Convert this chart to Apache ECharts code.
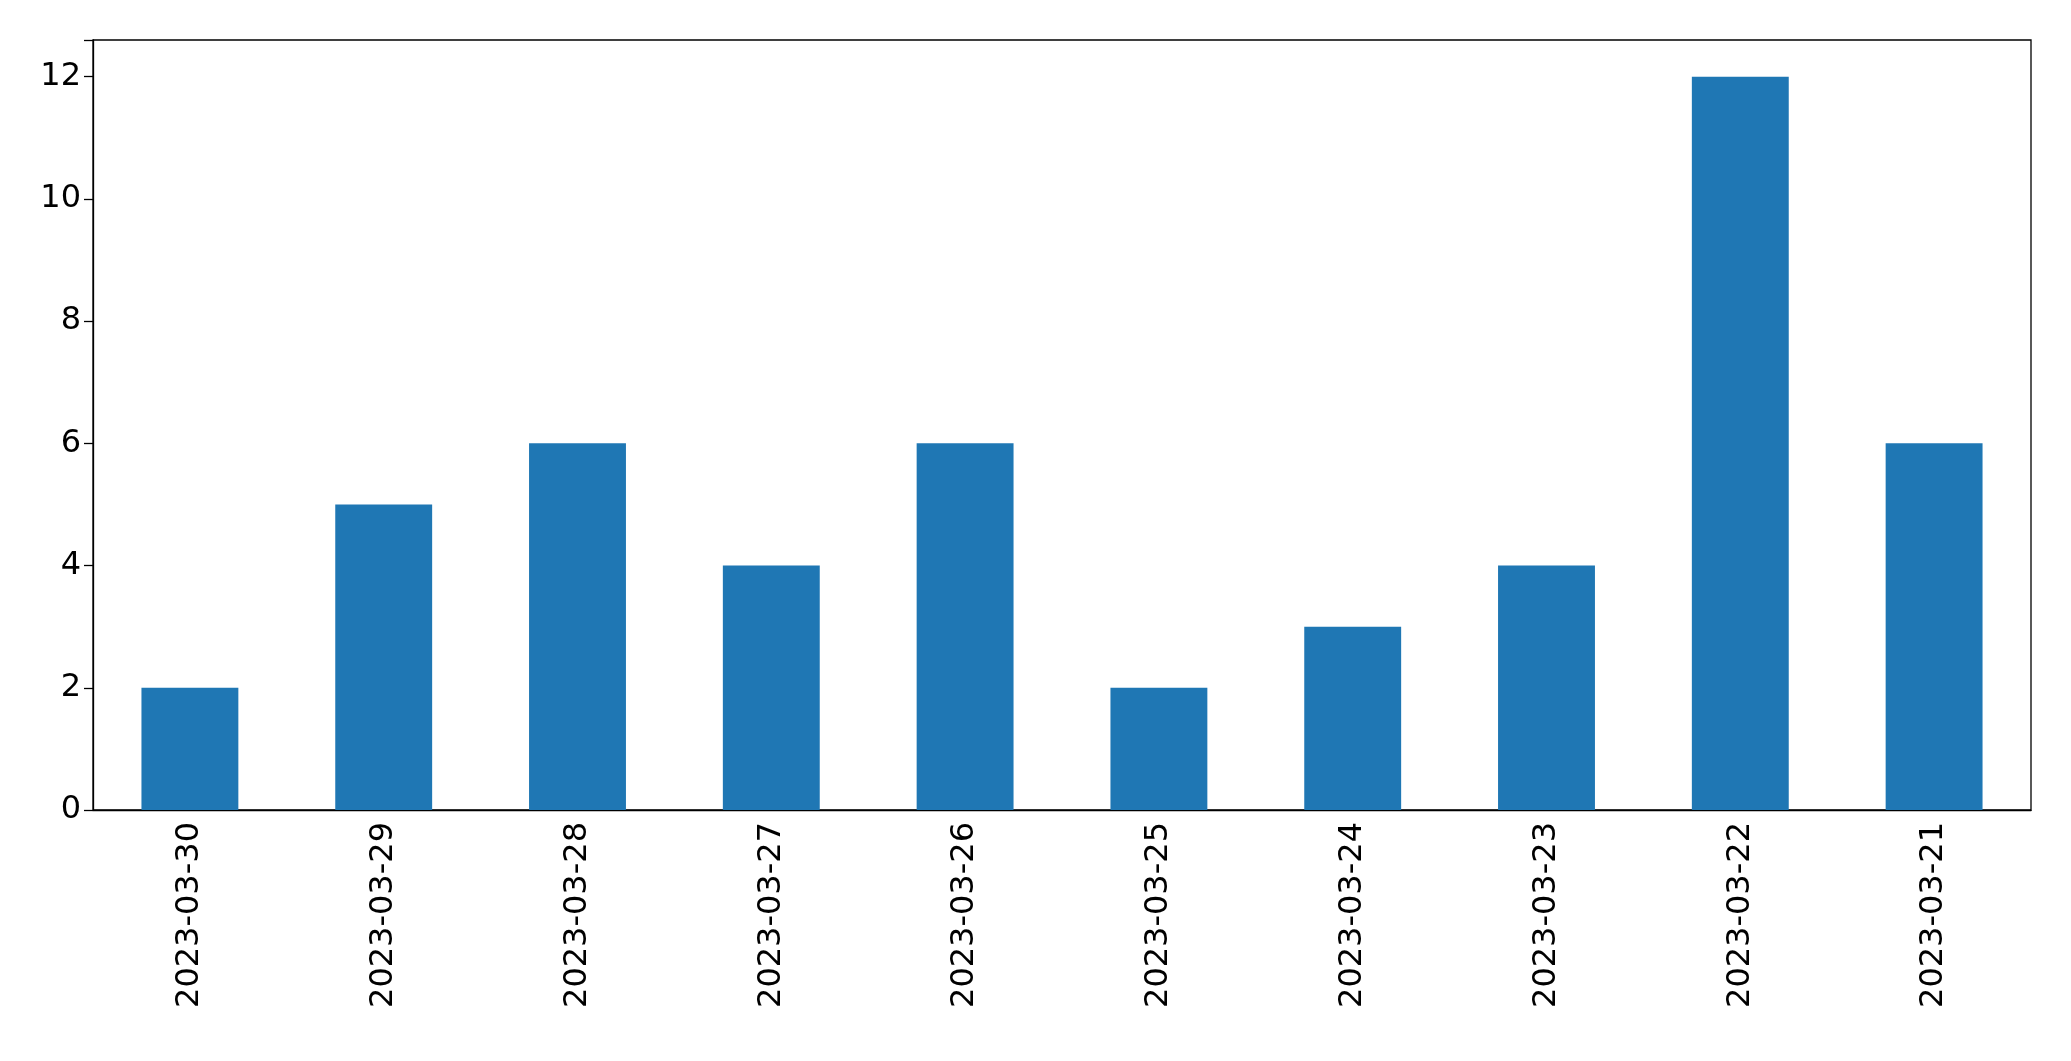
<!DOCTYPE html><html><head><meta charset="utf-8"><script src="https://cdn.jsdelivr.net/npm/echarts@6/dist/echarts.min.js"></script>
<style>html,body{margin:0;background:#fff}#c{width:2071px;height:1061px}</style></head><body><div id="c"></div><script>
const categories=['2023-03-30','2023-03-29','2023-03-28','2023-03-27','2023-03-26','2023-03-25','2023-03-24','2023-03-23','2023-03-22','2023-03-21'];
const values=[2,5,6,4,6,2,3,4,12,6];
const yTicks=[0,2,4,6,8,10,12];
const c=echarts.init(document.getElementById('c'));
c.setOption({animation:false,
grid:{left:93,right:40,top:40,bottom:251,show:true,borderColor:'#000',borderWidth:1.3},
xAxis:{type:'category',data:categories,axisLine:{lineStyle:{color:'#000',width:1.3}},axisTick:{alignWithLabel:true,length:9,lineStyle:{color:'#000',width:1.3}},
axisLabel:{rotate:90,fontSize:32,color:'#000',fontFamily:'DejaVu Sans',margin:12}},
yAxis:{type:'value',min:0,max:12.6,interval:2,splitLine:{show:false},axisLine:{show:true,lineStyle:{color:'#000',width:1.3}},axisTick:{show:true,length:9,lineStyle:{color:'#000',width:1.3}},
axisLabel:{fontSize:32,color:'#000',fontFamily:'DejaVu Sans',margin:12,formatter:v=>yTicks.includes(v)?String(v):''}},
series:[{type:'bar',data:values,barWidth:'50%',itemStyle:{color:'#1f77b4'}}]});
</script></body></html>
